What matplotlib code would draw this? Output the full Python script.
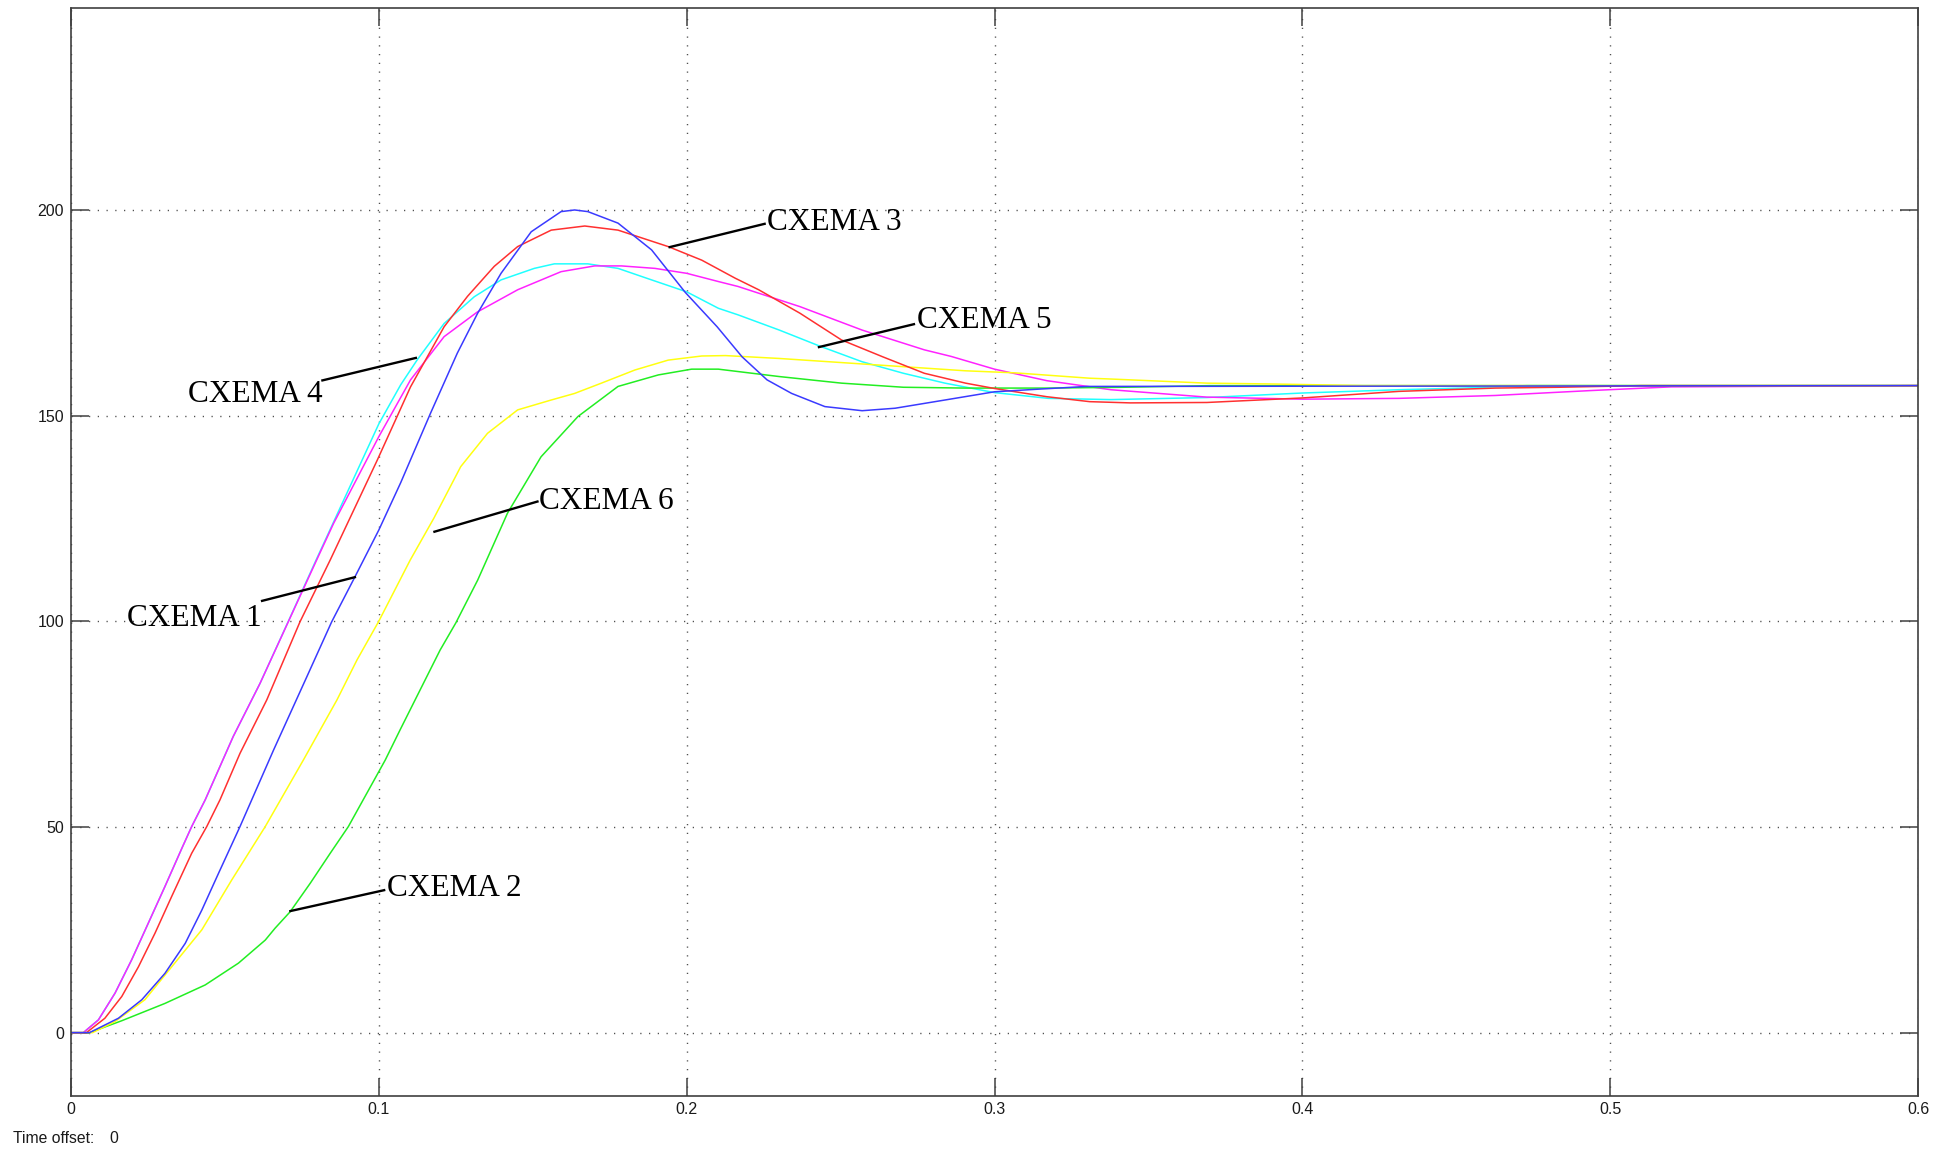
import matplotlib
matplotlib.use("Agg")
import matplotlib.pyplot as plt

# --- step responses of six schemes (time in s, response value) ---
t_blue = [0, 0.006, 0.0154, 0.023, 0.0305, 0.0371, 0.0425, 0.0479, 0.0549, 0.0658, 0.0766, 0.0847,
          0.0923, 0.1, 0.1071, 0.1168, 0.1255, 0.1321, 0.1397, 0.1495, 0.1592, 0.1636, 0.1679,
          0.1777, 0.1886, 0.1995, 0.2099, 0.218, 0.2261, 0.2341, 0.2449, 0.257, 0.2677, 0.2839,
          0.3, 0.3134, 0.33, 0.6]
v_blue = [0, 0, 3.5, 8.0, 14.4, 21.7, 29.8, 38.7, 50.1, 68.7, 86.5, 99.9,
          110.9, 122.2, 133.7, 150.6, 165.2, 174.9, 184.6, 194.7, 199.6, 200, 199.6,
          196.8, 190.3, 180.0, 171.6, 164.3, 158.7, 155.4, 152.2, 151.2, 151.8, 153.8,
          155.8, 156.4, 157.1, 157.3]

t_red = [0, 0.005, 0.011, 0.0165, 0.0219, 0.0273, 0.0327, 0.0392, 0.0441, 0.0484, 0.0549, 0.0636,
         0.0744, 0.0842, 0.0995, 0.1103, 0.1212, 0.1288, 0.1375, 0.1451, 0.156, 0.1669, 0.1777,
         0.194, 0.2049, 0.2158, 0.2234, 0.2368, 0.2503, 0.2637, 0.2772, 0.2906, 0.3, 0.317,
         0.3309, 0.3441, 0.369, 0.4, 0.4314, 0.4626, 0.4834, 0.51, 0.6]
v_red = [0, 0, 3.5, 8.8, 16.0, 24.2, 33.1, 43.6, 50.1, 56.6, 67.9, 80.9,
         99.9, 114.9, 139.2, 157, 171.6, 179.0, 186.3, 191.1, 195.1, 196.1, 195.1,
         191.1, 187.8, 183.4, 180.6, 174.9, 168.4, 164.3, 160.3, 157.9, 156.6, 154.6,
         153.4, 153.1, 153.2, 154.3, 155.9, 156.7, 156.9, 157.3, 157.3]

t_cyan = [0, 0.004, 0.0089, 0.0143, 0.0197, 0.0251, 0.0305, 0.036, 0.0392, 0.0436, 0.0527, 0.0614,
          0.0706, 0.0798, 0.0886, 0.1, 0.1071, 0.1125, 0.1212, 0.131, 0.1397, 0.1505, 0.157,
          0.1679, 0.1777, 0.1886, 0.2, 0.2103, 0.2167, 0.2301, 0.2429, 0.257, 0.2704, 0.2839,
          0.3, 0.3175, 0.3378, 0.369, 0.4, 0.4314, 0.4522, 0.473, 0.6]
v_cyan = [0, 0, 3.1, 9.6, 17.7, 26.6, 35.5, 44.8, 50.1, 56.6, 72.0, 84.9,
          100.0, 115.2, 129.5, 148.0, 157.5, 163.6, 172.4, 178.9, 183, 185.8, 186.9,
          186.9, 185.8, 183, 180.1, 176.1, 174.5, 170.8, 167, 163.1, 160.3, 157.9,
          155.6, 154.2, 153.9, 154.4, 155.5, 156.3, 156.7, 157.3, 157.3]

t_magenta = [0, 0.004, 0.0089, 0.0143, 0.0197, 0.0251, 0.0305, 0.036, 0.0392, 0.0436, 0.0527, 0.0614,
             0.0706, 0.0798, 0.0853, 0.1, 0.1103, 0.1212, 0.132, 0.1451, 0.1592, 0.1701, 0.1788,
             0.1897, 0.2, 0.2103, 0.2167, 0.2368, 0.257, 0.2772, 0.2859, 0.3, 0.317, 0.3378,
             0.369, 0.4, 0.4314, 0.4626, 0.4938, 0.52, 0.6]
v_magenta = [0, 0, 3.1, 9.6, 17.7, 26.6, 35.5, 44.8, 50.1, 56.6, 72.0, 84.9,
             99.9, 114.9, 123.8, 144.9, 158.7, 169.2, 175.2, 180.6, 185, 186.4, 186.4,
             185.8, 184.6, 182.6, 181.4, 176.5, 170.8, 166, 164.4, 161.3, 158.5, 156.3,
             154.5, 154, 154.2, 154.9, 156.1, 157.0, 157.3]

t_yellow = [0, 0.007, 0.0143, 0.024, 0.0327, 0.0425, 0.0522, 0.0631, 0.0755, 0.0864, 0.0929, 0.0999,
            0.1102, 0.1179, 0.1266, 0.1353, 0.1451, 0.156, 0.1636, 0.1723, 0.1832, 0.194, 0.2049,
            0.2126, 0.2301, 0.2503, 0.2704, 0.2906, 0.3067, 0.3309, 0.3378, 0.369, 0.3898, 0.42, 0.6]
v_yellow = [0, 0, 2.7, 8.0, 16.0, 25.0, 37.1, 50.1, 66.3, 80.9, 90.6, 99.9,
            114.9, 125.1, 137.6, 145.7, 151.4, 153.8, 155.4, 157.9, 161.1, 163.5, 164.5,
            164.6, 163.9, 162.9, 161.9, 160.9, 160.4, 159.1, 158.9, 157.9, 157.7, 157.3, 157.3]

t_green = [0, 0.006, 0.0165, 0.0305, 0.0436, 0.0544, 0.0631, 0.0663, 0.0712, 0.0777, 0.0842,
           0.0901, 0.0961, 0.1021, 0.1069, 0.1134, 0.1199, 0.125, 0.1321, 0.1418, 0.1527, 0.1647,
           0.1777, 0.1908, 0.2016, 0.2103, 0.2301, 0.2503, 0.2704, 0.2906, 0.3175, 0.342, 0.37, 0.6]
v_green = [0, 0, 2.9, 7.1, 11.6, 16.9, 22.5, 25.4, 29.4, 36.3, 43.6,
           50.1, 58.2, 66.3, 73.6, 83.3, 93.0, 99.6, 110, 126.3, 140, 149.8,
           157.1, 159.9, 161.3, 161.3, 159.5, 157.9, 156.9, 156.7, 156.7, 156.9, 157.3, 157.3]

# --- scheme labels: text, anchor (t, v), leader-line end (t, v), alignment ---
label_names = ["CXEMA 1", "CXEMA 2", "CXEMA 3", "CXEMA 4", "CXEMA 5", "CXEMA 6"]
label_text_pos = [(0.0618, 98.8), (0.1027, 33.1), (0.2261, 195.1),
                  (0.0816, 153.2), (0.2748, 171.4), (0.1520, 127.4)]
label_line_start = [(0.0617, 104.9), (0.1021, 34.7), (0.2257, 196.7),
                    (0.0813, 158.5), (0.2742, 172.3), (0.1519, 129.2)]
label_line_end = [(0.0926, 110.8), (0.0709, 29.5), (0.1941, 190.9),
                  (0.1124, 164.1), (0.2426, 166.6), (0.1177, 121.7)]
label_align = ["right", "left", "left", "right", "left", "left"]

x_ticks = [0, 0.1, 0.2, 0.3, 0.4, 0.5, 0.6]
x_tick_labels = ["0", "0.1", "0.2", "0.3", "0.4", "0.5", "0.6"]
y_ticks = [0, 50, 100, 150, 200]
y_tick_labels = ["0", "50", "100", "150", "200"]

W, H = 1951, 1149
fig = plt.figure(figsize=(W / 100, H / 100), dpi=100)
fig.patch.set_facecolor("white")

ax_left, ax_right, ax_top, ax_bottom = 71, 1918, 8, 1096
ax = fig.add_axes([ax_left / W, 1 - ax_bottom / H,
                   (ax_right - ax_left) / W, (ax_bottom - ax_top) / H])
ax.set_xlim(0, 0.6)
ax.set_ylim(-15.4, 249.1)

spine_col = "#404040"
for s in ax.spines.values():
    s.set_color(spine_col)
    s.set_linewidth(1.2)

ax.set_xticks(x_ticks)
ax.set_xticklabels(x_tick_labels)
ax.set_yticks(y_ticks)
ax.set_yticklabels(y_tick_labels)
ax.tick_params(axis="both", which="both", direction="in", length=13, width=1.1,
               color=spine_col, top=True, right=True, labelsize=11.5,
               labelcolor="#1a1a1a")
ax.tick_params(axis="y", pad=5)
ax.tick_params(axis="x", pad=4)
for lab in ax.get_xticklabels() + ax.get_yticklabels():
    lab.set_fontfamily("Liberation Sans")

ax.set_axisbelow(True)
ax.grid(True, color="#505050", linestyle=(0, (0.9, 5.4)), linewidth=1.0)

lw = 1.1
ax.plot(t_cyan, v_cyan, color="#20ffff", lw=lw)
ax.plot(t_magenta, v_magenta, color="#ff22ff", lw=lw)
ax.plot(t_green, v_green, color="#22ee22", lw=lw)
ax.plot(t_yellow, v_yellow, color="#ffff10", lw=lw)
ax.plot(t_red, v_red, color="#ff3030", lw=lw)
ax.plot(t_blue, v_blue, color="#3a3aff", lw=lw)

for name, tp, ls, le, ha in zip(label_names, label_text_pos, label_line_start,
                                label_line_end, label_align):
    ax.plot([ls[0], le[0]], [ls[1], le[1]], color="black", lw=1.7,
            solid_capstyle="butt")
    ax.text(tp[0], tp[1], name, ha=ha, va="baseline", fontsize=22.5,
            family="Liberation Serif", color="black")

fig.text(13 / W, (H - 1143) / H, "Time offset:", fontsize=11.3,
         family="Liberation Sans", color="#1a1a1a", va="baseline", ha="left")
fig.text(109 / W, (H - 1143) / H, "0", fontsize=11.3,
         family="Liberation Sans", color="#1a1a1a", va="baseline", ha="left")

fig.savefig("out.png", dpi=100, facecolor="white")
